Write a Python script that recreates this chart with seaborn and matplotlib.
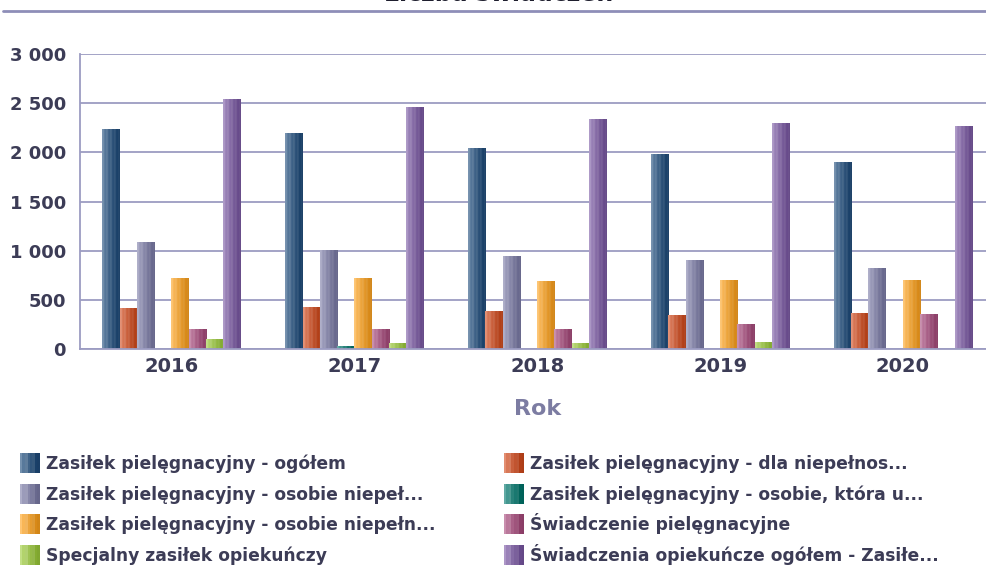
import numpy as np
import pandas as pd
import matplotlib
matplotlib.use("Agg")
import matplotlib.pyplot as plt
from matplotlib.colors import to_rgb
from matplotlib.patches import Rectangle
import seaborn as sns

# ---- data -------------------------------------------------------------
years = ["2016", "2017", "2018", "2019", "2020"]

series_names = [
    "Zasiłek pielęgnacyjny - ogółem",
    "Zasiłek pielęgnacyjny - dla niepełnos...",
    "Zasiłek pielęgnacyjny - osobie niepeł...",
    "Zasiłek pielęgnacyjny - osobie, która u...",
    "Zasiłek pielęgnacyjny - osobie niepełn...",
    "Świadczenie pielęgnacyjne",
    "Specjalny zasiłek opiekuńczy",
    "Świadczenia opiekuńcze ogółem - Zasiłe...",
]

zasilek_ogolem = [2228, 2187, 2044, 1983, 1900]
zasilek_niepelnosprawne_dziecko = [408, 424, 384, 343, 363]
zasilek_niepelnosprawni_16 = [1082, 1003, 942, 898, 816]
zasilek_osoba_75 = [0, 23, 0, 0, 0]
zasilek_niepelnosprawni_21 = [714, 715, 690, 697, 697]
swiadczenie_pielegnacyjne = [200, 200, 200, 245, 347]
specjalny_zasilek = [98, 54, 54, 64, 0]
swiadczenia_ogolem = [2534, 2452, 2330, 2289, 2265]

colors = ["#1E4C7C", "#D24A1C", "#7C7CA8", "#00766C",
          "#FFA21C", "#A84A7C", "#9CCB3A", "#7A58A4"]

all_values = [zasilek_ogolem, zasilek_niepelnosprawne_dziecko,
              zasilek_niepelnosprawni_16, zasilek_osoba_75,
              zasilek_niepelnosprawni_21, swiadczenie_pielegnacyjne,
              specjalny_zasilek, swiadczenia_ogolem]

df = pd.DataFrame(
    [(y, name, v) for name, vals in zip(series_names, all_values)
     for y, v in zip(years, vals)],
    columns=["Rok", "Seria", "Liczba"],
)

# ---- styling ----------------------------------------------------------
sns.set_theme(style="white")
plt.rcParams["font.family"] = ["DejaVu Sans"]
text_col = "#3C3C56"
grid_col = "#9C9CC2"

W, H = 987, 565


def shade_profile(color, n=64):
    """Horizontal light-to-dark sheen with faint vertical stripes."""
    base = np.array(to_rgb(color))
    t = np.linspace(0, 1, n)
    light = 0.38 * (1 - t) ** 1.2
    stripes = 0.06 * np.sin(t * np.pi * 9)
    dark = 0.18 * t
    rows = []
    for li, st, dk in zip(light, stripes, dark):
        c = base + (1 - base) * max(li + st, 0)
        c = c * (1 - dk)
        rows.append(np.clip(c, 0, 1))
    return np.array(rows)[None, :, :]


fig = plt.figure(figsize=(W / 100, H / 100), dpi=100)
ax = fig.add_axes([0.081, 0.3823, 0.9265, 0.5221])

sns.barplot(data=df, x="Rok", y="Liczba", hue="Seria",
            hue_order=series_names, palette=colors, width=0.755,
            saturation=1, linewidth=0, legend=False, ax=ax)

# sheen over each bar, sized from the bar patch itself
for cont, col in zip(ax.containers, colors):
    prof = shade_profile(col)
    for p in cont.patches:
        h = p.get_height()
        if h <= 0:
            continue
        x = p.get_x()
        w = p.get_width()
        ax.imshow(prof, extent=[x, x + w, 0, h], aspect="auto",
                  interpolation="bilinear", zorder=p.get_zorder() + 0.1)

ax.set_xlim(-0.5, len(years) - 0.5)
ax.set_ylim(0, 3000)
ax.set_yticks(np.arange(0, 3001, 500))
ax.set_yticklabels([f"{v:,}".replace(",", " ") for v in range(0, 3001, 500)],
                   fontsize=13, fontweight="bold", color=text_col)
ax.set_xticks(range(len(years)))
ax.set_xticklabels(years, fontsize=14, fontweight="bold", color=text_col)
ax.tick_params(axis="both", length=0, pad=10)
ax.tick_params(axis="x", pad=6)

ax.grid(axis="y", color=grid_col, linewidth=1.3)
ax.set_axisbelow(True)
for s in ["top", "right"]:
    ax.spines[s].set_visible(False)
for s in ["left", "bottom"]:
    ax.spines[s].set_color(grid_col)
    ax.spines[s].set_linewidth(1.3)

ax.set_xlabel("Rok", fontsize=16, fontweight="bold", color="#7C7CA2",
              labelpad=16)
ax.set_ylabel("")

# title sitting at the very top edge, with a rule beneath it
fig.text(0.505, 1 - 1 / H, "Liczba świadczeń", ha="center",
         va="baseline", fontsize=17, fontweight="bold", color="#1E1E2E")
fig.add_artist(plt.Line2D([0.003, 1.0], [1 - 11 / H, 1 - 11 / H],
                          color="#8E8EB8", linewidth=2))

# legend: two columns on an even row grid (odd series left, even right)
col_x = [20, 504]
row_y = [463, 493.5, 524, 555]
sq = 20
for i, (name, col) in enumerate(zip(series_names, colors)):
    cx = col_x[i % 2]
    cy = row_y[i // 2]
    prof = shade_profile(col, n=8)[0]
    sw = sq / len(prof)
    for k, c in enumerate(prof):
        fig.add_artist(Rectangle(((cx + k * sw) / W, 1 - (cy + sq / 2) / H),
                                 (sw + 0.3) / W, sq / H, facecolor=c,
                                 edgecolor="none",
                                 transform=fig.transFigure))
    fig.text((cx + sq + 6) / W, 1 - (cy + 6.2) / H, name, ha="left",
             va="baseline", fontsize=12.3, fontweight="bold", color=text_col)

fig.savefig("out.png", dpi=100)
